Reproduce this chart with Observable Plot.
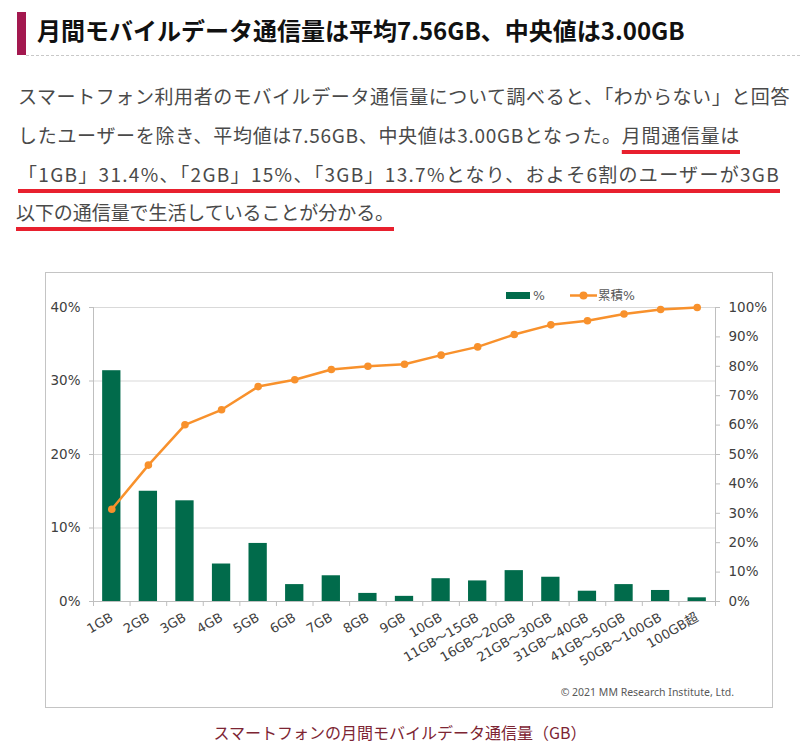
<!DOCTYPE html>
<html><head><meta charset="utf-8">
<script src="https://cdn.jsdelivr.net/npm/d3@7"></script>
<script src="https://cdn.jsdelivr.net/npm/@observablehq/plot@0.6"></script>
<style>
html,body{margin:0;padding:0;background:#fff;}
body{width:800px;height:753px;position:relative;overflow:hidden;font-family:"Noto Sans CJK JP",sans-serif;}
#bar{position:absolute;left:17px;top:12px;width:9px;height:43px;background:#a3184f;}
#title{position:absolute;left:37px;top:13px;font-size:24px;font-weight:700;color:#111;line-height:34px;white-space:nowrap;}
#dots{position:absolute;left:26px;top:55px;width:774px;border-top:1px dashed #c8c8c8;}
.pl{position:absolute;font-size:19px;line-height:26px;color:#4a4a4a;white-space:nowrap;}
.ul{text-decoration-line:underline;text-decoration-color:#e8202e;text-decoration-thickness:4px;text-underline-offset:7px;text-decoration-skip-ink:none;}
#frame{position:absolute;left:45px;top:272px;width:726px;height:434px;border:1px solid #c4c4c4;}
#frame svg{position:absolute;left:0;top:0;}
#legend{position:absolute;font-family:"DejaVu Sans","Noto Sans CJK JP",sans-serif;font-size:12.5px;color:#595959;}
#copy{position:absolute;right:38px;top:412px;font-family:"Noto Sans",sans-serif;font-size:10.5px;color:#595959;white-space:nowrap;}
#caption{position:absolute;left:0;width:800px;top:720px;text-align:center;font-size:16px;color:#7d2533;line-height:24px;}
</style></head><body>
<div id="bar"></div>
<div id="title">月間モバイルデータ通信量は平均7.56GB、中央値は3.00GB</div>
<div id="dots"></div>
<div class="pl" data-w="772" style="left:18px;top:83px;">スマートフォン利用者のモバイルデータ通信量について調べると、「わからない」と回答</div>
<div class="pl" data-w="722" style="left:18px;top:122px;">したユーザーを除き、平均値は7.56GB、中央値は3.00GBとなった。<span class="ul">月間通信量は</span></div>
<div class="pl" data-w="762" style="left:18px;top:161px;"><span class="ul">「1GB」31.4%、「2GB」15%、「3GB」13.7%となり、およそ6割のユーザーが3GB</span></div>
<div class="pl" data-w="378" style="left:16px;top:199px;"><span class="ul">以下の通信量で生活していることが分かる。</span></div>
<div id="frame">
  <div id="copy">© 2021 MM Research Institute, Ltd.</div>
</div>
<div id="legend"></div>
<div id="caption">スマートフォンの月間モバイルデータ通信量（GB）</div>
<script>
// ---- data ----
const categories = ["1GB","2GB","3GB","4GB","5GB","6GB","7GB","8GB","9GB","10GB","11GB～15GB","16GB～20GB","21GB～30GB","31GB～40GB","41GB～50GB","50GB～100GB","100GB超"];
const percent = [31.4,15.0,13.7,5.1,7.9,2.3,3.5,1.1,0.7,3.1,2.8,4.2,3.3,1.4,2.3,1.5,0.5];
const cumulative = [31.4,46.4,60.1,65.2,73.1,75.4,78.9,80.0,80.7,83.8,86.6,90.8,94.1,95.5,97.8,99.3,100.0];
const leftTicks = [0,10,20,30,40];
const rightTicks = [0,10,20,30,40,50,60,70,80,90,100];
const seriesNames = ["%","累積%"];

const rows = categories.map((c,i)=>({category:c, percent:percent[i], cumulative:cumulative[i]}));

// fit paragraph lines to widths
document.querySelectorAll(".pl").forEach(el=>{
  const target = +el.dataset.w;
  const nat = el.getBoundingClientRect().width;
  const n = [...el.textContent].length;
  el.style.letterSpacing = ((target-nat)/n).toFixed(3)+"px";
});

const W=726,H=434,ML=47,MR=57,MT=34,MB=106;
const step=(W-ML-MR)/categories.length;
const green="#016b4b", orange="#f8912c", axisGray="#bfbfbf", labelColor="#404040";
const font='"DejaVu Sans","Noto Sans CJK JP",sans-serif';
const xBand=()=>({type:"band",domain:categories,paddingInner:0.5,paddingOuter:0.25,round:false,label:null});
const common={width:W,height:H,marginLeft:ML,marginRight:MR,marginTop:MT,marginBottom:MB,
  style:{background:"transparent",fontFamily:font,fontSize:"13px",color:labelColor,overflow:"visible"}};

const barsPlot=Plot.plot({...common,
  x:xBand(),
  y:{domain:[0,40],label:null},
  marks:[
    Plot.gridY(leftTicks.slice(1),{stroke:"#d9d9d9",strokeOpacity:1}),
    Plot.barY(rows,{x:"category",y:"percent",fill:green}),
    Plot.ruleY([0],{stroke:axisGray}),
    Plot.ruleX([categories[0]],{dx:-step/2,stroke:axisGray,insetBottom:-5}),
    Plot.axisX({tickSize:5,dx:step/2,stroke:axisGray,tickFormat:()=>"",label:null}),
    Plot.axisY(leftTicks,{tickFormat:d=>d+"%",tickSize:4,tickPadding:9,stroke:axisGray,fill:labelColor,fontSize:13.5,label:null}),
    Plot.axisX({tickRotate:-30,tickSize:0,tickPadding:15,fill:labelColor,fontSize:13,label:null})
  ]
});

const linePlot=Plot.plot({...common,
  x:{...xBand(),axis:null},
  y:{domain:[0,100],label:null},
  marks:[
    Plot.ruleX([categories[categories.length-1]],{dx:step/2,stroke:axisGray}),
    Plot.axisY(rightTicks,{anchor:"right",tickFormat:d=>d+"%",tickSize:4,tickPadding:9,stroke:axisGray,fill:labelColor,fontSize:13.5,label:null}),
    Plot.line(rows,{x:"category",y:"cumulative",stroke:orange,strokeWidth:2.5}),
    Plot.dot(rows,{x:"category",y:"cumulative",r:3.8,fill:orange,stroke:"none"})
  ]
});

const frame=document.getElementById("frame");
frame.appendChild(barsPlot);
frame.appendChild(linePlot);

// legend
const lg=document.getElementById("legend");
lg.style.left="506px"; lg.style.top="285px";
lg.innerHTML=`<svg width="150" height="20" style="overflow:visible">
<rect x="0" y="7" width="24" height="7" fill="${green}"></rect>
<text x="27" y="15" fill="#595959" font-size="12.5" font-family='${font}'>${seriesNames[0]}</text>
<line x1="64" y1="10.5" x2="91" y2="10.5" stroke="${orange}" stroke-width="2.5"></line>
<circle cx="77.5" cy="10.5" r="4" fill="${orange}"></circle>
<text x="92" y="15" fill="#595959" font-size="12.5" font-family='${font}'>${seriesNames[1]}</text>
</svg>`;
</script>
</body></html>
